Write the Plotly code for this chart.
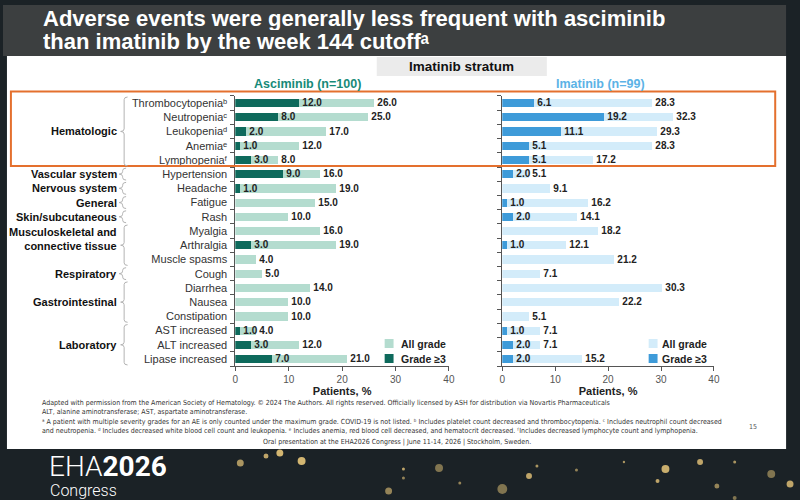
import plotly.graph_objects as go

# ---------------- data ----------------
events = ["Thrombocytopenia", "Neutropenia", "Leukopenia", "Anemia", "Lymphopenia",
          "Hypertension", "Headache", "Fatigue", "Rash", "Myalgia", "Arthralgia",
          "Muscle spasms", "Cough", "Diarrhea", "Nausea", "Constipation",
          "AST increased", "ALT increased", "Lipase increased"]
event_notes = ["ᵇ", "ᶜ", "ᵈ", "ᵉ", "ᶠ"] + [""] * 14
asc_all = [26.0, 25.0, 17.0, 12.0, 8.0, 16.0, 19.0, 15.0, 10.0, 16.0, 19.0,
           4.0, 5.0, 14.0, 10.0, 10.0, 4.0, 12.0, 21.0]
asc_g3 = [12.0, 8.0, 2.0, 1.0, 3.0, 9.0, 1.0, 0, 0, 0, 3.0,
          0, 0, 0, 0, 0, 1.0, 3.0, 7.0]
ima_all = [28.3, 32.3, 29.3, 28.3, 17.2, 5.1, 9.1, 16.2, 14.1, 18.2, 12.1,
           21.2, 7.1, 30.3, 22.2, 5.1, 7.1, 7.1, 15.2]
ima_g3 = [6.1, 19.2, 11.1, 5.1, 5.1, 2.0, 0, 1.0, 2.0, 0, 1.0,
          0, 0, 0, 0, 0, 1.0, 2.0, 2.0]
groups = [("Hematologic", 0, 4), ("Vascular system", 5, 5), ("Nervous system", 6, 6),
          ("General", 7, 7), ("Skin/subcutaneous", 8, 8),
          ("Musculoskeletal and<br>connective tissue", 9, 11), ("Respiratory", 12, 12),
          ("Gastrointestinal", 13, 15), ("Laboratory", 16, 18)]
x_ticks = [0, 10, 20, 30, 40]
series_names = ["All grade", "Grade ≥3"]

# ---------------- styling ----------------
FONT = "Liberation Sans, Arial, Helvetica, DejaVu Sans, sans-serif"
NARROW = "Liberation Sans Narrow, Arial Narrow, DejaVu Sans Condensed, sans-serif"
ASC_LIGHT, ASC_DARK = "#b4dccf", "#0e6a5c"
IMA_LIGHT, IMA_DARK = "#d3ecfa", "#3e9bd9"
AXC = "#555555"

W, H = 800, 500
def px(x):
    return x / W
def py(y):
    return 1 - y / H

ypos = list(range(len(events)))
ticktext = [e + n for e, n in zip(events, event_notes)]

fig = go.Figure()
panels = [("x", "y", asc_all, asc_g3, ASC_LIGHT, ASC_DARK),
          ("x2", "y2", ima_all, ima_g3, IMA_LIGHT, IMA_DARK)]
for xa, ya, allv, g3v, cl, cd in panels:
    for vals, col, nm in ((allv, cl, series_names[0]), (g3v, cd, series_names[1])):
        xs = [v for v in vals if v > 0]
        ys = [i for i, v in zip(ypos, vals) if v > 0]
        fig.add_trace(go.Bar(
            x=xs, y=ys, orientation="h", width=0.58,
            marker=dict(color=col, line=dict(width=0)),
            text=[f"<b>{v:.1f}</b>" for v in xs], textposition="outside", textangle=0,
            constraintext="none", cliponaxis=False,
            textfont=dict(size=10, color="#222222", family=FONT),
            name=nm, showlegend=False, xaxis=xa, yaxis=ya, hoverinfo="skip"))

ydom = [py(366.1), py(95.9)]
xcommon = dict(range=[0, 40], tickvals=x_ticks, showline=True, linecolor=AXC,
               linewidth=1, ticks="outside", ticklen=4, tickcolor=AXC,
               tickfont=dict(size=10, color=AXC, family=FONT),
               showgrid=False, zeroline=False,
               title=dict(text="<b>Patients, %</b>", standoff=3,
                          font=dict(size=11, color="#222222", family=FONT)))
ycommon = dict(range=[18.5, -0.5], autorange=False, domain=ydom, showline=True,
               linecolor=AXC, linewidth=1, ticks="", showgrid=False, zeroline=False,
               minor=dict(tickmode="array", tickvals=[i - 0.5 for i in range(len(events) + 1)],
                          ticks="outside", ticklen=4, tickcolor=AXC, showgrid=False))

fig.update_layout(
    width=W, height=H, margin=dict(l=0, r=0, t=0, b=0),
    paper_bgcolor="#1b2226", plot_bgcolor="rgba(0,0,0,0)",
    barmode="overlay", bargap=0, font=dict(family=FONT), showlegend=False,
    xaxis=dict(domain=[px(235), px(451)], anchor="y", **xcommon),
    xaxis2=dict(domain=[px(505), px(719)], anchor="y2", **xcommon),
    yaxis=dict(anchor="x", tickvals=ypos, ticktext=ticktext, ticklabelstandoff=5,
               tickfont=dict(size=11, color="#333333", family=FONT), **ycommon),
    yaxis2=dict(anchor="x2", showticklabels=False, **ycommon),
)

shapes = []
# slide background pieces
shapes.append(dict(type="rect", xref="paper", yref="paper", x0=0, x1=px(792),
                   y0=py(56), y1=py(5), fillcolor="#3c3f40", line=dict(width=0), layer="below"))
shapes.append(dict(type="rect", xref="paper", yref="paper", x0=px(4), x1=px(792),
                   y0=py(449), y1=py(56), fillcolor="#ffffff", line=dict(width=0), layer="below"))
# imatinib stratum header box
shapes.append(dict(type="rect", xref="paper", yref="paper", x0=px(378), x1=px(550),
                   y0=py(76), y1=py(57), fillcolor="#ebebeb", line=dict(width=0), layer="below"))
# orange highlight box
shapes.append(dict(type="rect", xref="paper", yref="paper", x0=px(8), x1=px(781),
                   y0=py(166), y1=py(91.5), fillcolor="rgba(0,0,0,0)",
                   line=dict(color="#e4702e", width=2)))

# curly braces for the groups
def brace(y0, y1):
    single = y0 == y1
    xl = 121 if single else 122.5
    xh = xl + 3.5
    xp = xl - 3.5
    a = y0 - 0.42
    b = y1 + 0.42
    m = (y0 + y1) / 2
    d = 0.18
    X = lambda v: f"{px(v):.5f}"
    return (f"M{X(xh)},{a} Q{X(xl)},{a} {X(xl)},{a + d} L{X(xl)},{m - d} "
            f"Q{X(xl)},{m} {X(xp)},{m} Q{X(xl)},{m} {X(xl)},{m + d} "
            f"L{X(xl)},{b - d} Q{X(xl)},{b} {X(xh)},{b}")

annotations = []
for name, g0, g1 in groups:
    shapes.append(dict(type="path", xref="paper", yref="y", path=brace(g0, g1),
                       line=dict(color="#b3b3b3", width=1)))
    annotations.append(dict(xref="paper", yref="y", x=px(117), y=(g0 + g1) / 2,
                            xanchor="right", yanchor="middle", align="right",
                            yshift=6 if "<br>" in name else 0,
                            text=f"<b>{name}</b>", showarrow=False,
                            font=dict(size=11, color="#111111", family=FONT)))

# legends (one per panel)
for (lx, tx), (cl, cd) in (((386, 400), (ASC_LIGHT, ASC_DARK)), ((653, 664), (IMA_LIGHT, IMA_DARK))):
    for (ly, col, nm) in ((343.5, cl, series_names[0]), (358.5, cd, series_names[1])):
        shapes.append(dict(type="rect", xref="paper", yref="paper", x0=px(lx), x1=px(lx + 9),
                           y0=py(ly + 4.5), y1=py(ly - 4.5), fillcolor=col, line=dict(width=0)))
        annotations.append(dict(xref="paper", yref="paper", x=px(tx), y=py(ly), text=f"<b>{nm}</b>",
                                xanchor="left", yanchor="middle", showarrow=False,
                                font=dict(size=10.5, color="#222222", family=FONT)))

# decorative gold dots on the dark footer
dots = [(240, 463, 3.5, 0.7), (266, 456, 2.5, 0.8), (280, 453, 3.5, 0.9), (302, 461, 4, 0.9),
        (405, 469, 1.5, 0.8), (441, 468, 4, 0.5), (462, 483, 1.5, 0.6), (505, 489, 5, 0.5),
        (532, 476, 3, 0.8), (540, 466, 1.5, 0.7), (405, 478, 1.5, 0.6), (390, 491, 3.5, 0.6),
        (670, 469, 4, 0.85), (662, 481, 2, 0.8), (705, 462, 3, 0.8), (722, 486, 2.5, 0.6),
        (740, 462, 1.5, 0.7), (777, 474, 4, 0.5), (796, 484, 3.5, 0.8), (580, 470, 1.5, 0.6),
        (628, 462, 1.2, 0.7), (740, 498, 2, 0.5)]
for cx, cy, r, op in dots:
    shapes.append(dict(type="circle", xref="paper", yref="paper",
                       x0=px(cx - r), x1=px(cx + r), y0=py(cy + r), y1=py(cy - r),
                       fillcolor="#e8c77a", opacity=op, line=dict(width=0), layer="below"))

def note(x, y, text, size, color="#222222", anchor="left", family=FONT, weight=None, height=None):
    f = dict(size=size, color=color, family=family)
    if weight:
        f["weight"] = weight
    a = dict(xref="paper", yref="paper", x=px(x), y=py(y), text=text,
             xanchor=anchor, yanchor="middle", showarrow=False, font=f,
             align=anchor if anchor != "center" else "center")
    if height:
        a["height"] = height
    annotations.append(a)

note(38, 18, "<b>Adverse events were generally less frequent with asciminib</b>", 22, "#ffffff", height=23)
note(38, 42, "<b>than imatinib by the week 144 cutoffᵃ</b>", 22, "#ffffff", height=23)
note(464, 66.5, "<b>Imatinib stratum</b>", 13.5, "#111111", "center")
note(308, 84, "<b>Asciminib (n=100)</b>", 12.5, "#178a78", "center")
note(604, 84, "<b>Imatinib (n=99)</b>", 12.5, "#5cb3e6", "center")

fn = 7.0
note(37, 403, "Adapted with permission from the American Society of Hematology. © 2024 The Authors. "
     "All rights reserved. Officially licensed by ASH for distribution via Novartis Pharmaceuticals",
     fn, "#333333", family=NARROW)
note(37, 412, "ALT, alanine aminotransferase; AST, aspartate aminotransferase.", fn, "#333333", family=NARROW)
note(37, 422, "ᵃ A patient with multiple severity grades for an AE is only counted under the "
     "maximum grade. COVID-19 is not listed. ᵇ Includes platelet count decreased and "
     "thrombocytopenia. ᶜ Includes neutrophil count decreased", fn, "#333333", family=NARROW)
note(37, 431, "and neutropenia. ᵈ Includes decreased white blood cell count and leukopenia. "
     "ᵉ Includes anemia, red blood cell decreased, and hematocrit decreased. "
     "ᶠIncludes decreased lymphocyte count and lymphopenia.", fn, "#333333", family=NARROW)
note(759, 427, "15", fn, "#555555", "center", family=NARROW)
note(398, 441.5, "Oral presentation at the EHA2026 Congress | June 11-14, 2026 | Stockholm, Sweden.",
     fn, "#333333", "center", family=NARROW)

note(45, 466.5, "EHA<b>2026</b>", 28, "#ffffff", family="Roboto, Inter, sans-serif", weight=300, height=29)
note(46, 490, "Congress", 16, "#ffffff", family="Roboto, Inter, sans-serif", weight=300, height=17)

fig.update_layout(shapes=shapes, annotations=annotations)
fig.write_html("out.html")
